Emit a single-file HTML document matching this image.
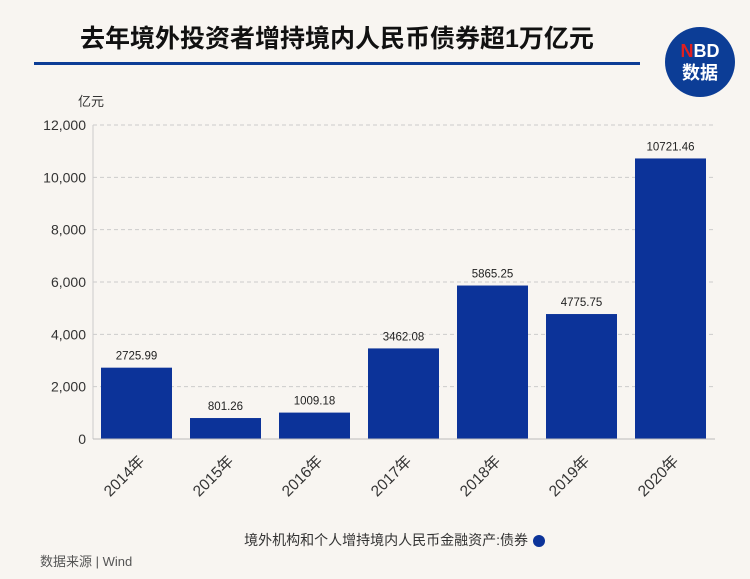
<!DOCTYPE html>
<html><head><meta charset="utf-8"><style>
body{margin:0;background:#f8f5f1;}
svg{display:block;font-family:"Liberation Sans","Noto Sans CJK SC",sans-serif;}
</style></head><body>
<svg id="c" width="750" height="579" viewBox="0 0 750 579">
<rect width="750" height="579" fill="#f8f5f1"/>
<text x="80" y="47" font-size="25" font-weight="bold" fill="#111">去年境外投资者增持境内人民币债券超1万亿元</text>
<rect x="34" y="62" width="606" height="3" fill="#0c3d96"/>
<g>
<circle cx="700" cy="62" r="35" fill="#0c3d96"/>
<text x="700" y="57" text-anchor="middle" font-size="18" font-weight="bold" fill="#fff"><tspan fill="#e02020">N</tspan>BD</text>
<text x="700" y="79" text-anchor="middle" font-size="18" font-weight="bold" fill="#fff">数据</text>
</g>
<text x="78" y="106" font-size="13" fill="#333">亿元</text>
<g id="grid"></g><g id="bars"></g><g id="xl"></g>
<line x1="93" y1="125" x2="93" y2="439" stroke="#ccc"/>
<line x1="93" y1="439" x2="715" y2="439" stroke="#bbb"/>
<g>
<text x="528" y="545" text-anchor="end" font-size="14" fill="#333">境外机构和个人增持境内人民币金融资产:债券</text>
<circle cx="539" cy="541" r="6" fill="#0c3399"/>
</g>
<text x="40" y="566" font-size="13" fill="#555">数据来源 | Wind</text>
</svg>
<script>
const categories=["2014年","2015年","2016年","2017年","2018年","2019年","2020年"];
const values=[2725.99,801.26,1009.18,3462.08,5865.25,4775.75,10721.46];
const valueLabels=["2725.99","801.26","1009.18","3462.08","5865.25","4775.75","10721.46"];
const ticks=[0,2000,4000,6000,8000,10000,12000];
const tickLabels=["0","2,000","4,000","6,000","8,000","10,000","12,000"];
const NS="http://www.w3.org/2000/svg";
const y=v=>439-v/12000*314;
const x0=92,step=89,bw=71;
const xc=i=>x0+step*i+step/2;
function mk(t,a,p,txt){const e=document.createElementNS(NS,t);for(const k in a)e.setAttribute(k,a[k]);if(txt!=null)e.textContent=txt;p.appendChild(e);return e;}
const g=document.getElementById('grid');
ticks.forEach((t,i)=>{
 if(t>0){const l=mk('line',{x1:93,x2:715,y1:y(t),y2:y(t),stroke:'#ccc','stroke-dasharray':'4,3'},g);
 
 }
 const tx=mk('text',{x:86,y:y(t)+5,'text-anchor':'end','font-size':14,fill:'#333'},g,tickLabels[i]);
 
 
});
const b=document.getElementById('bars'),xl=document.getElementById('xl');
values.forEach((v,i)=>{
 const r=mk('rect',{x:xc(i)-bw/2,y:y(v),width:bw,height:439-y(v),fill:'#0c3399'},b);
 
 
 const t=mk('text',{x:xc(i),y:y(v)-8,'text-anchor':'middle','font-size':11.5,fill:'#222'},b,valueLabels[i]);
 
 
 const c=mk('text',{x:0,y:0,'text-anchor':'end','font-size':15.5,fill:'#333',transform:`translate(${xc(i)+9},${462}) rotate(-45)`},xl,categories[i]);
 
 
});
</script>
</body></html>
